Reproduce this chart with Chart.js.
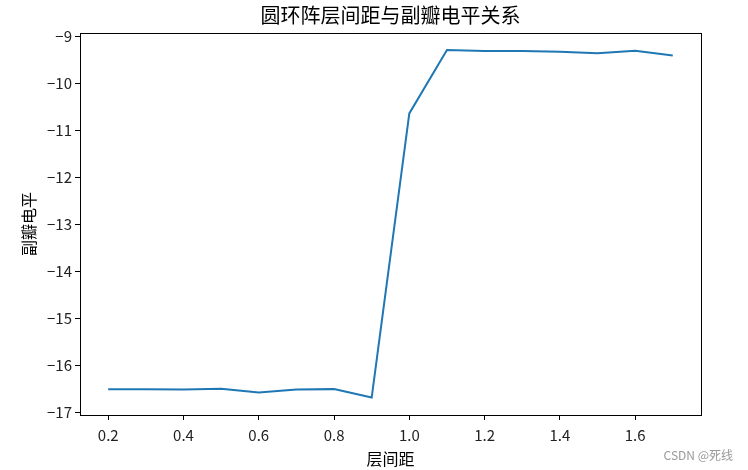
<!DOCTYPE html>
<html>
<head>
<meta charset="utf-8">
<script src="https://cdn.jsdelivr.net/npm/chart.js@4"></script>
<style>
  html, body { margin: 0; padding: 0; background: #fff; }
  #wrap { width: 748px; height: 470px; position: relative; }
</style>
</head>
<body>
<div id="wrap"><canvas id="c" width="748" height="470"></canvas></div>
<script>
// Layer spacing vs side lobe level
const spacing = [0.2, 0.3, 0.4, 0.5, 0.6, 0.7, 0.8, 0.9, 1.0, 1.1, 1.2, 1.3, 1.4, 1.5, 1.6, 1.7];
const sideLobe = [-16.50, -16.50, -16.51, -16.49, -16.57, -16.51, -16.50, -16.68, -10.64, -9.29, -9.31, -9.31, -9.33, -9.36, -9.31, -9.41];
const xTicks = [0.2, 0.4, 0.6, 0.8, 1.0, 1.2, 1.4, 1.6];
const yTicks = [-17, -16, -15, -14, -13, -12, -11, -10, -9];

const TITLE = '圆环阵层间距与副瓣电平关系';
const X_LABEL = '层间距';
const Y_LABEL = '副瓣电平';
const WATERMARK = 'CSDN @死线';

const FONT = '"Noto Sans CJK SC", "DejaVu Sans", sans-serif';

// frame + title + labels drawn on top of chart area
const decorations = {
    id: 'decorations',
    afterDraw(chart) {
        const { ctx, chartArea: a } = chart;
        ctx.save();
        ctx.strokeStyle = '#000';
        ctx.lineWidth = 1;
        ctx.strokeRect(Math.round(a.left) + 0.5, Math.round(a.top) + 0.5,
            Math.round(a.right - a.left), Math.round(a.bottom - a.top));

        ctx.fillStyle = '#000';
        ctx.textAlign = 'center';
        ctx.textBaseline = 'middle';
        ctx.font = '20px ' + FONT;
        ctx.fillText(TITLE, (a.left + a.right) / 2, 15);

        ctx.font = '16px ' + FONT;
        ctx.fillText(X_LABEL, (a.left + a.right) / 2, 459);

        ctx.save();
        ctx.translate(29, (a.top + a.bottom) / 2);
        ctx.rotate(-Math.PI / 2);
        ctx.fillText(Y_LABEL, 0, 0);
        ctx.restore();

        ctx.fillStyle = '#999';
        ctx.textAlign = 'right';
        ctx.font = '12px ' + FONT;
        ctx.fillText(WATERMARK, 733, 455);
        ctx.restore();
    }
};

new Chart(document.getElementById('c'), {
    type: 'line',
    data: {
        datasets: [{
            data: spacing.map((x, i) => ({ x: x, y: sideLobe[i] })),
            borderColor: '#1f77b4',
            borderWidth: 2,
            pointRadius: 0,
            tension: 0,
            fill: false
        }]
    },
    options: {
        responsive: false,
        animation: false,
        devicePixelRatio: 1,
        layout: { padding: { top: 33, right: 47, bottom: 0, left: 0 } },
        plugins: {
            legend: { display: false },
            tooltip: { enabled: false },
            title: { display: false }
        },
        scales: {
            x: {
                type: 'linear',
                min: 0.125,
                max: 1.775,
                afterBuildTicks: scale => { scale.ticks = xTicks.map(v => ({ value: v })); },
                afterFit: scale => { scale.height = 55; },
                grid: { display: true, drawOnChartArea: false, tickLength: 5, color: '#000' },
                border: { display: true, color: '#000' },
                ticks: {
                    color: '#222',
                    font: { family: FONT, size: 15 },
                    padding: 6,
                    maxRotation: 0,
                    callback: v => v.toFixed(1)
                }
            },
            y: {
                type: 'linear',
                min: -17.05,
                max: -8.93,
                afterBuildTicks: scale => { scale.ticks = yTicks.map(v => ({ value: v })); },
                afterFit: scale => { scale.width = 80; },
                grid: { display: true, drawOnChartArea: false, tickLength: 5, color: '#000' },
                border: { display: true, color: '#000' },
                ticks: {
                    color: '#222',
                    font: { family: FONT, size: 15 },
                    padding: 3,
                    callback: v => String(v).replace('-', '\u2212')
                }
            }
        }
    },
    plugins: [decorations]
});
</script>
</body>
</html>
